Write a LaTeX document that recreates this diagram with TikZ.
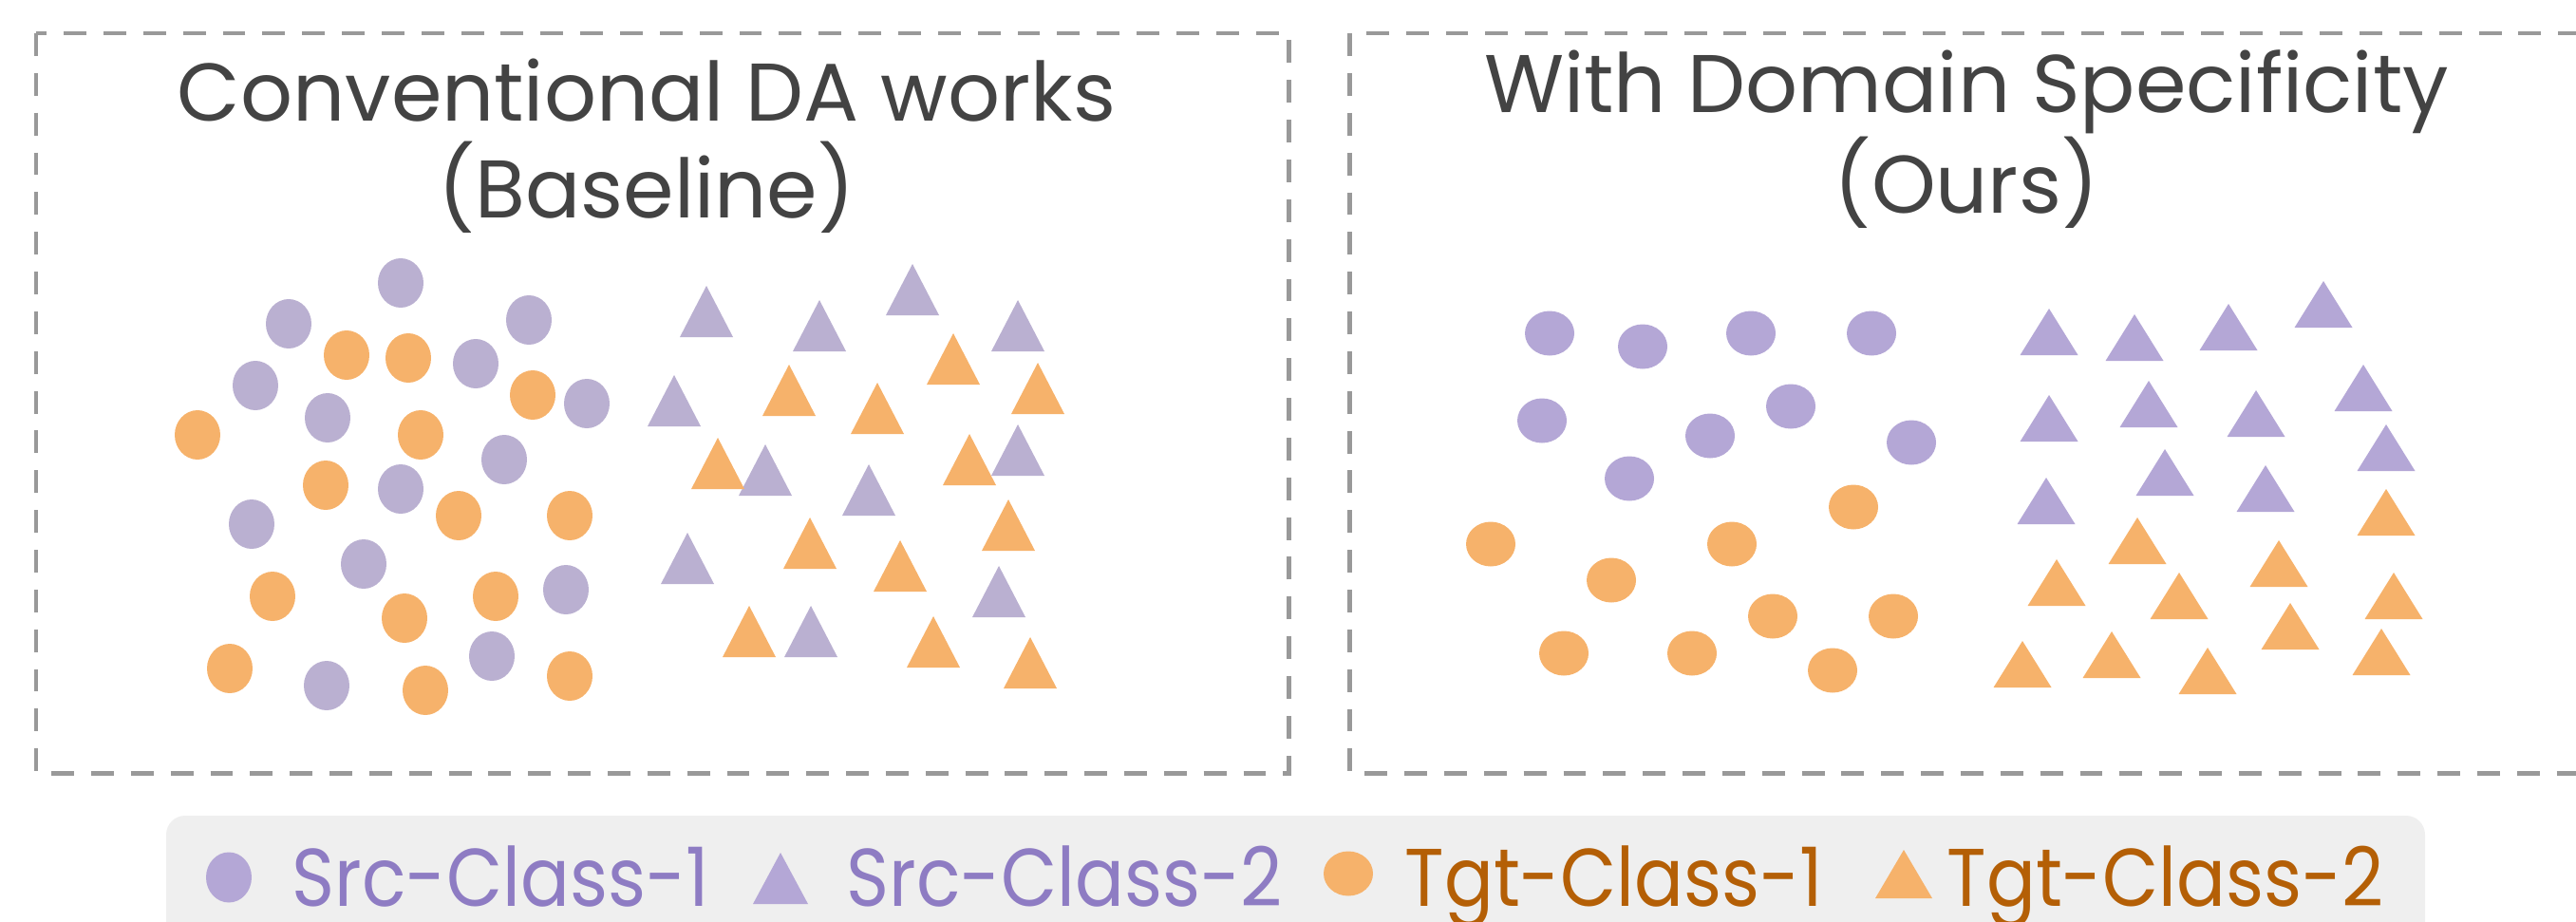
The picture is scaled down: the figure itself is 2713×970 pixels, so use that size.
\documentclass[tikz,border=0pt]{standalone}
\usepackage{fontspec}
\setmainfont{Poppins}
\newfontfamily\legendfont{Poppins}[FakeStretch=0.89]
\definecolor{srcleft}{HTML}{BAB0D1}
\definecolor{srcright}{HTML}{B4A7D6}
\definecolor{tgtfill}{HTML}{F6B26B}
\definecolor{titlegray}{HTML}{434343}
\definecolor{framegray}{HTML}{999999}
\definecolor{legendbg}{HTML}{EFEFEF}
\definecolor{srctext}{HTML}{8E7CC3}
\definecolor{tgttext}{HTML}{B45F06}

\begin{document}
\begin{tikzpicture}[x=0.01cm, y=-0.01cm,
    title/.style={text=titlegray, align=center, anchor=base, inner sep=0pt,
      font=\fontsize{24.5}{29}\selectfont},
    legendtext/.style={anchor=base west, inner sep=0pt,
      font=\legendfont\fontsize{24.5}{29}\selectfont},
    frame/.style={draw=framegray, line width=1.42pt, dash pattern=on 6.8pt off 5.1pt}]
    \useasboundingbox (0,0) rectangle (2713,970);

    % Dashed frames
    \draw[frame] (38,35) rectangle (1357,814);
    \draw[frame] (2760,35) -- (1421,35) -- (1421,814) -- (2760,814);

    % Titles (anchored on the second line)
    \node[title] (baseline) at (681,229) {Conventional DA works\\(Baseline)};
    \node[title] (ours) at (2071,225) {With Domain Specificity\\(Ours)};

    % Baseline: mixed circles
    \foreach \x/\y in {422/298,304/341,501/383,557/337,269/406,618/425,345/440,
                       531/484,422/515,265/552,383/594,596/621,344/722,518/691} {
        \fill[srcleft] (\x,\y) ellipse [x radius=24, y radius=26];
    }
    \foreach \x/\y in {365/374,430/377,561/416,208/458,443/458,343/511,483/543,
                       600/543,287/628,522/628,426/651,242/704,448/727,600/712} {
        \fill[tgtfill] (\x,\y) ellipse [x radius=24, y radius=26];
    }

    % Baseline: mixed triangles
    \foreach \x/\b in {744/355,863/370,961/332,1072/370,710/449,806/522,915/543,
                       1072/501,724/615,1052/650,854/692} {
        \fill[srcleft] (\x-28,\b) -- (\x,\b-54) -- (\x+28,\b) -- cycle;
    }
    \foreach \x/\b in {1004/405,831/438,924/457,1093/436,756/515,1021/511,1062/580,
                       853/599,948/623,789/692,983/703,1085/725} {
        \fill[tgtfill] (\x-28,\b) -- (\x,\b-54) -- (\x+28,\b) -- cycle;
    }

    % Ours: separated circles
    \foreach \x/\y in {1632/351,1730/365,1844/351,1971/351,1624/443,1801/459,
                       1886/428,2013/466,1716/504} {
        \fill[srcright] (\x,\y) ellipse [x radius=26, y radius=23.5];
    }
    \foreach \x/\y in {1952/534,1570/573,1824/573,1697/611,1867/649,1994/649,
                       1647/688,1782/688,1930/706} {
        \fill[tgtfill] (\x,\y) ellipse [x radius=26, y radius=23.5];
    }

    % Ours: separated triangles
    \foreach \x/\b in {2158/374,2248/380,2347/369,2447/345,2489/433,2158/465,
                       2263/450,2376/460,2513/496,2280/522,2386/539,2155/552} {
        \fill[srcright] (\x-30.5,\b) -- (\x,\b-49) -- (\x+30.5,\b) -- cycle;
    }
    \foreach \x/\b in {2513/564,2251/594,2400/618,2166/638,2295/652,2521/652,
                       2412/684,2508/711,2130/724,2224/714,2325/731} {
        \fill[tgtfill] (\x-30.5,\b) -- (\x,\b-49) -- (\x+30.5,\b) -- cycle;
    }

    % Legend
    \fill[legendbg, rounded corners=0.2cm] (175,1000) -- (175,859) -- (2554,859) -- (2554,1000);
    \fill[srcright] (241,924) ellipse [x radius=24, y radius=26.5];
    \node[legendtext, text=srctext] (src1) at (307,954) {Src-Class-1};
    \fill[srcright] (793,952) -- (822,898) -- (851,952) -- cycle;
    \node[legendtext, text=srctext] (src2) at (891,954) {Src-Class-2};
    \fill[tgtfill] (1420,920) ellipse [x radius=26, y radius=23.5];
    \node[legendtext, text=tgttext] (tgt1) at (1479,954) {Tgt-Class-1};
    \fill[tgtfill] (1975,946) -- (2005,895) -- (2035,946) -- cycle;
    \node[legendtext, text=tgttext] (tgt2) at (2050,954) {Tgt-Class-2};
\end{tikzpicture}
\end{document}
